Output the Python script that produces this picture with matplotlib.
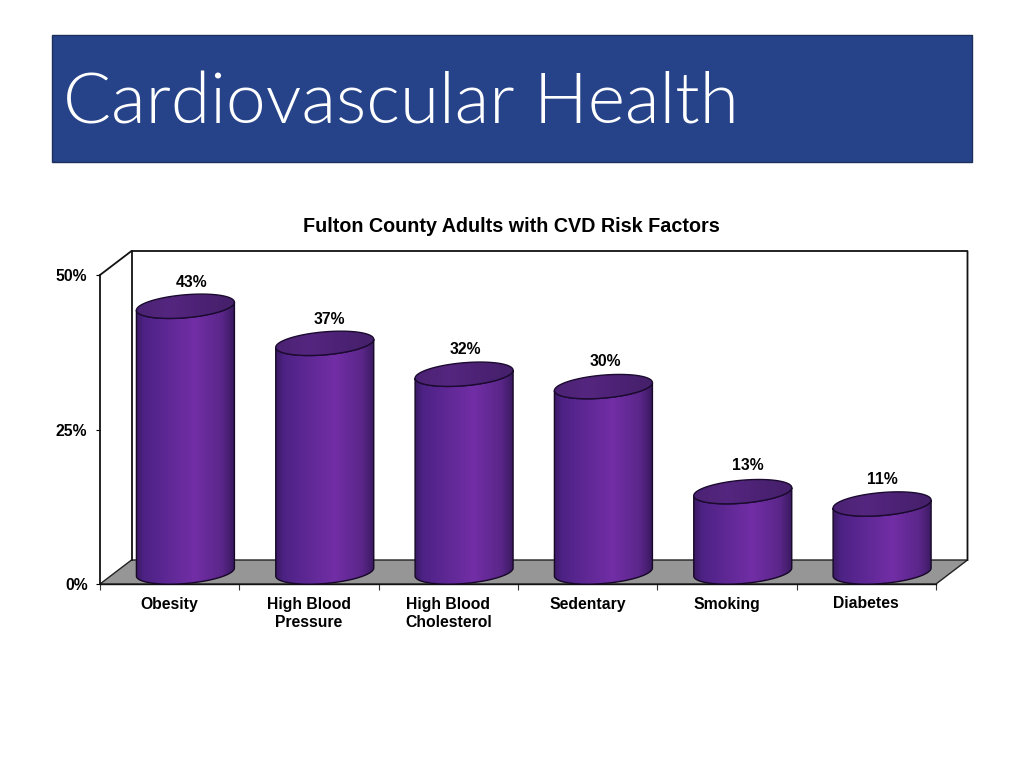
import numpy as np
import matplotlib
matplotlib.use("Agg")
import matplotlib.pyplot as plt
from matplotlib.patches import Polygon, Rectangle
from matplotlib.colors import LinearSegmentedColormap

categories = ["Obesity", "High Blood\nPressure", "High Blood\nCholesterol", "Sedentary", "Smoking", "Diabetes"]
values = [43, 37, 32, 30, 13, 11]
y_ticks = [0, 25, 50]
chart_title = "Fulton County Adults with CVD Risk Factors"
slide_title = "Cardiovascular Health"

# label nudges in pixels, the labels are not centred on the cylinders
label_dx = [6, 5, 1, 2, 5, 0]
label_dy = [24, 24, 25, 25, 26, 25]

W, H = 1024, 768
plt.rcParams['font.family'] = ['Liberation Sans', 'DejaVu Sans']

fig = plt.figure(figsize=(W / 100, H / 100), dpi=100)

# slide header
fig.add_artist(Rectangle((52 / W, 1 - 162 / H), 920 / W, 127 / H, transform=fig.transFigure,
                         facecolor="#264389", edgecolor="#1c2f5c", linewidth=1))
fig.text(63 / W, 1 - 104 / H, slide_title, color="white", fontsize=51.3, family="Lato", fontweight=300,
         va="center", ha="left")
fig.text(511 / W, 1 - 226 / H, chart_title, fontsize=14.2, fontweight="bold", ha="center", va="center")

# plot area, front edge of the floor
ax = fig.add_axes([100 / W, 1 - 584 / H, 836 / W, 309 / H])
ax.set_xlim(0, 6)
ax.set_ylim(0, 50)
ax.patch.set_visible(False)

px_x = 6 / 836    # data units for one pixel
px_y = 50 / 309
depth_x = 31.5 * px_x
depth_y = 24 * px_y

# walls and floor
ax.add_patch(Polygon([(0, 0), (6, 0), (6 + depth_x, depth_y), (depth_x, depth_y)], closed=True,
                     facecolor="#969696", edgecolor="#222222", linewidth=1, clip_on=False, zorder=1))
ax.plot([0, depth_x, 6 + depth_x, 6 + depth_x], [50, 50 + depth_y, 50 + depth_y, depth_y],
        color="#111111", lw=1.3, clip_on=False, zorder=1)
ax.plot([depth_x, depth_x], [depth_y, 50 + depth_y], color="#111111", lw=1.3, clip_on=False, zorder=1)

cmap = LinearSegmentedColormap.from_list("cyl", [(0, "#3a1a63"), (0.08, "#4d2285"), (0.6, "#722ea6"),
                                                 (0.88, "#5a2689"), (1, "#3a1a60")])
cap_cmap = LinearSegmentedColormap.from_list("cap", ["#4a2273", "#55267f", "#4c2275", "#45206a"])
grad = np.linspace(0, 1, 256).reshape(1, -1)

a = 49 * px_x     # half width
b = 11.5 * px_y   # half height of the ellipse
tilt = 4 * px_y
t = np.linspace(0, 2 * np.pi, 181)

for i, v in enumerate(values):
    cx = i + 0.5 + depth_x / 2
    base = depth_y / 2
    top = base + v

    ex = a * np.cos(t)
    ey = b * np.sin(t) + tilt * np.cos(t)

    # body = lower half of the base ellipse + lower half of the top one reversed
    low = t >= np.pi
    bx = cx + ex[low]
    by = base + ey[low]
    body = np.vstack([np.column_stack([bx, by]), np.column_stack([bx[::-1], top + ey[low][::-1]])])

    body_patch = Polygon(body, closed=True, facecolor="none", edgecolor="#160826", linewidth=1,
                         clip_on=False, zorder=4)
    ax.add_patch(body_patch)
    im = ax.imshow(grad, cmap=cmap, aspect="auto", extent=[cx - a, cx + a, base - 3, top + 3], zorder=3)
    clip = Polygon(body, closed=True, transform=ax.transData)
    im.set_clip_path(clip)

    cap = Polygon(np.column_stack([cx + ex, top + ey]), closed=True, facecolor="none",
                  edgecolor="#1c0b30", linewidth=1, clip_on=False, zorder=6)
    ax.add_patch(cap)
    im2 = ax.imshow(grad, cmap=cap_cmap, aspect="auto", extent=[cx - a, cx + a, top - 3, top + 3], zorder=5)
    im2.set_clip_path(Polygon(np.column_stack([cx + ex, top + ey]), closed=True, transform=ax.transData))

    ax.text(cx + label_dx[i] * px_x, top + label_dy[i] * px_y, f"{v}%", fontsize=11.3, fontweight="bold",
            ha="center", va="center", zorder=7)

ax.set_xlim(0, 6)
ax.set_ylim(0, 50)

# axes
for side in ("top", "right"):
    ax.spines[side].set_visible(False)
ax.spines["left"].set_color("#111111")
ax.spines["bottom"].set_color("#111111")
ax.spines["left"].set_linewidth(1.3)
ax.spines["bottom"].set_linewidth(1.0)
ax.spines["left"].set_zorder(2)
ax.spines["bottom"].set_zorder(2)

ax.set_yticks(y_ticks)
ax.set_yticklabels([f"{y}%" for y in y_ticks], fontsize=11.3, fontweight="bold")
ax.tick_params(axis="y", length=3, pad=6)
ax.set_xticks(range(7))
ax.set_xticklabels([])
ax.tick_params(axis="x", which="major", length=4, color="#333333")
ax.set_xticks(np.arange(6) + 0.5, minor=True)
ax.set_xticklabels(categories, minor=True, fontsize=11.3, fontweight="bold", linespacing=1.33)
ax.tick_params(axis="x", which="minor", length=0, pad=9)

fig.savefig("out.png", dpi=100)
